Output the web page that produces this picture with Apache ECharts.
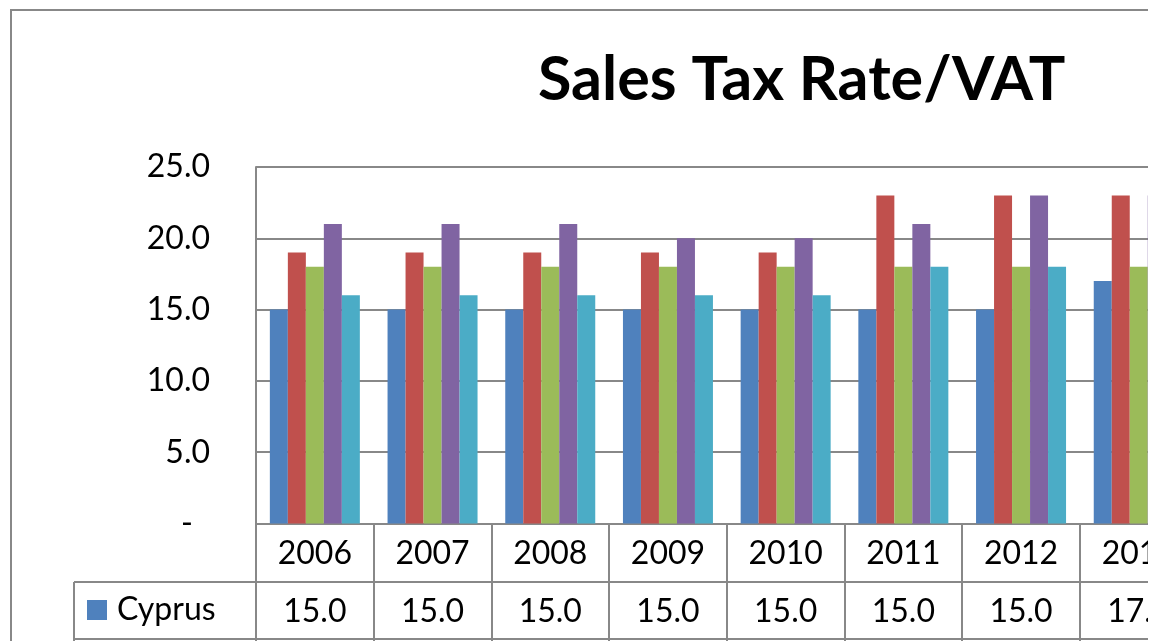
<!DOCTYPE html>
<html>
<head>
<meta charset="utf-8">
<script src="https://cdn.jsdelivr.net/npm/echarts@6/dist/echarts.min.js"></script>
<style>
  html, body { margin: 0; padding: 0; background: #fff; }
  .wrap { width: 1148px; height: 641px; overflow: hidden; position: relative; }
  #chart { width: 1400px; height: 641px; }
</style>
</head>
<body>
<div class="wrap"><div id="chart"></div></div>
<script>
// 数据
const years = ['2006', '2007', '2008', '2009', '2010', '2011', '2012', '2013']
const cyprus = [15, 15, 15, 15, 15, 15, 15, 17]
const greece = [19, 19, 19, 19, 19, 23, 23, 23]
const malta = [18, 18, 18, 18, 18, 18, 18, 18]
const portugal = [21, 21, 21, 20, 20, 21, 23, 23]
const spain = [16, 16, 16, 16, 16, 18, 18, 21]

const colors = ['#4F81BD', '#C0504D', '#9BBB59', '#8064A2', '#4BACC6']
const lineGray = '#888888'
const font = 'Lato, "Open Sans", sans-serif'

const chart = echarts.init(document.getElementById('chart'))

const makeBar = (name, data, i) => ({
  name: name,
  type: 'bar',
  data: data,
  barWidth: 18,
  barGap: '0%',
  itemStyle: { color: colors[i] },
  animation: false
})

const option = {
  animation: false,
  title: {
    text: 'Sales Tax Rate/VAT',
    left: 538,
    top: 50,
    padding: 0,
    textStyle: { fontFamily: font, fontSize: 61, fontWeight: 'bold', color: '#000' }
  },
  legend: {
    data: ['Cyprus'],
    left: 87,
    top: 594,
    padding: 0,
    icon: 'rect',
    itemWidth: 20,
    itemHeight: 20,
    itemGap: 10,
    selectedMode: false,
    textStyle: { fontFamily: font, fontSize: 32, color: '#000', padding: [0, 0, 0, 5] }
  },
  grid: {
    left: 256,
    top: 167,
    right: 202.4,
    bottom: 117.5,
    containLabel: false
  },
  xAxis: [
    {
      type: 'category',
      data: years,
      position: 'bottom',
      axisLine: { show: true, lineStyle: { color: lineGray, width: 2 } },
      axisTick: { show: true, length: 118, lineStyle: { color: lineGray, width: 2 } },
      axisLabel: { fontFamily: font, fontSize: 32, color: '#000', margin: 14 }
    },
    {
      type: 'category',
      data: years,
      position: 'bottom',
      offset: 58.5,
      axisLine: { show: false },
      axisTick: { show: false },
      axisLabel: {
        fontFamily: font, fontSize: 32, color: '#000', margin: 14,
        formatter: (v, i) => cyprus[i].toFixed(1)
      }
    }
  ],
  yAxis: {
    type: 'value',
    min: 0,
    max: 25,
    interval: 5,
    axisLine: { show: true, lineStyle: { color: lineGray, width: 2 } },
    axisTick: { show: false },
    splitLine: { show: true, lineStyle: { color: lineGray, width: 2 } },
    axisLabel: {
      fontFamily: font, fontSize: 32, color: '#000', margin: 46,
      formatter: v => v === 0 ? '{d|-}' : v.toFixed(1),
      rich: { d: { fontFamily: font, fontSize: 32, color: '#000', padding: [0, 17, 0, 0] } }
    }
  },
  // 外框和数据表格线
  graphic: [
    { type: 'rect', z: -10, silent: true, shape: { x: 11, y: 10, width: 3000, height: 1000 },
      style: { fill: '#fff', stroke: lineGray, lineWidth: 2 } },
    { type: 'line', silent: true, shape: { x1: 74, y1: 582, x2: 3000, y2: 582 },
      style: { stroke: lineGray, lineWidth: 2 } },
    { type: 'line', silent: true, shape: { x1: 74, y1: 639, x2: 3000, y2: 639 },
      style: { stroke: lineGray, lineWidth: 2 } },
    { type: 'line', silent: true, shape: { x1: 74, y1: 582, x2: 74, y2: 641 },
      style: { stroke: lineGray, lineWidth: 2 } }
  ],
  series: [
    makeBar('Cyprus', cyprus, 0),
    makeBar('Greece', greece, 1),
    makeBar('Malta', malta, 2),
    makeBar('Portugal', portugal, 3),
    makeBar('Spain', spain, 4)
  ]
}

chart.setOption(option)
</script>
</body>
</html>
